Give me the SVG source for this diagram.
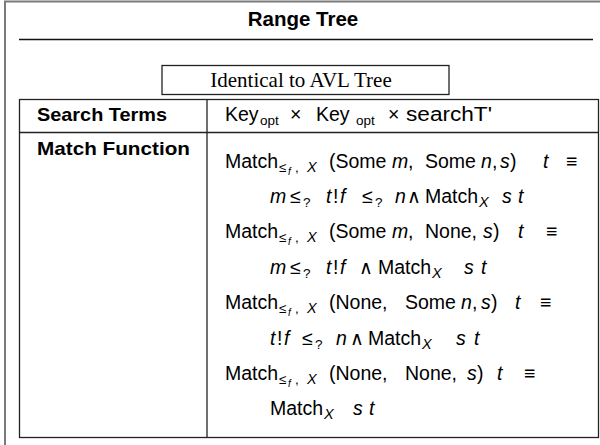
<svg xmlns="http://www.w3.org/2000/svg" width="600" height="445" viewBox="0 0 600 445">
  <style>
    .frame { fill: none; stroke: #7a7a7a; stroke-width: 2; }
    .rule { fill: none; stroke: #111; stroke-width: 1.5; }
    .cell { fill: none; stroke: #222; stroke-width: 1.3; }
    .hd { font-family: "Liberation Sans", Arial, sans-serif; font-weight: bold; font-size: 19px; fill: #000; }
    .serif { font-family: "Liberation Serif", "Times New Roman", serif; font-size: 21px; fill: #000; }
    .m { font-family: "Liberation Sans", Arial, sans-serif; font-size: 19.5px; fill: #000; }
    .i { font-style: italic; }
    .and { font-family: "DejaVu Sans", sans-serif; font-size: 19px; }
    .sb { font-size: 13.5px; }
    .sx { font-size: 14.5px; font-style: italic; }
    .ss { font-size: 10px; font-style: italic; }
  </style>

  <!-- page frame -->
  <path class="frame" d="M5,445 V1.5 H600"/>

  <g id="title">
    <text class="hd" x="303" y="26" text-anchor="middle" style="font-size:20.5px">Range Tree</text>
    <line class="rule" x1="19" y1="39.5" x2="593" y2="39.5"/>
  </g>

  <g id="inherits">
    <rect class="cell" x="162" y="65.5" width="287" height="29"/>
    <text class="serif" x="301" y="87" text-anchor="middle">Identical to AVL Tree</text>
  </g>

  <g id="table">
    <rect class="cell" x="19.5" y="99.5" width="579" height="338"/>
    <line class="cell" x1="207" y1="99.5" x2="207" y2="437.5"/>
    <line class="cell" x1="19.5" y1="132.5" x2="598.5" y2="132.5"/>
  </g>

  <g id="search-terms">
    <text class="hd" x="37" y="121" textLength="130" lengthAdjust="spacingAndGlyphs">Search Terms</text>
    <text class="m" y="121"><tspan x="225">Key</tspan><tspan class="sb" x="260" dy="4">opt</tspan><tspan x="290" dy="-4">×</tspan><tspan x="316">Key</tspan><tspan class="sb" x="356" dy="4">opt</tspan><tspan x="388" dy="-4">×</tspan><tspan x="406" textLength="86" lengthAdjust="spacingAndGlyphs">searchT'</tspan></text>
  </g>

  <g id="match-function">
    <text class="hd" x="37" y="155" textLength="153" lengthAdjust="spacingAndGlyphs">Match Function</text>

    <!-- case: Some m, Some n -->
    <text class="m" y="168"><tspan x="225">Match</tspan><tspan class="sb" x="279" dy="4">≤</tspan><tspan class="ss" x="288" dy="3">f</tspan><tspan class="sb" x="295" dy="-3">,</tspan><tspan class="sx" x="307">X</tspan><tspan x="329" dy="-4">(Some</tspan><tspan class="i" x="392">m</tspan><tspan x="408">,</tspan><tspan x="425">Some</tspan><tspan class="i" x="481">n</tspan><tspan x="492">,</tspan><tspan class="i" x="500">s</tspan><tspan x="510">)</tspan><tspan class="i" x="543">t</tspan><tspan x="566">≡</tspan></text>
    <text class="m" y="203"><tspan class="i" x="270">m</tspan><tspan x="290">≤</tspan><tspan class="sb" x="303" dy="4">?</tspan><tspan class="i" x="326" dy="-4">t</tspan><tspan x="333">!</tspan><tspan class="i" x="340">f</tspan><tspan x="362">≤</tspan><tspan class="sb" x="375" dy="4">?</tspan><tspan class="i" x="395" dy="-4">n</tspan><tspan class="and" x="407">∧</tspan><tspan x="425">Match</tspan><tspan class="sx" x="479" dy="4">X</tspan><tspan class="i" x="502" dy="-4">s</tspan><tspan class="i" x="518">t</tspan></text>

    <!-- case: Some m, None -->
    <text class="m" y="238"><tspan x="225">Match</tspan><tspan class="sb" x="279" dy="4">≤</tspan><tspan class="ss" x="288" dy="3">f</tspan><tspan class="sb" x="295" dy="-3">,</tspan><tspan class="sx" x="307">X</tspan><tspan x="329" dy="-4">(Some</tspan><tspan class="i" x="392">m</tspan><tspan x="408">,</tspan><tspan x="425">None,</tspan><tspan class="i" x="483">s</tspan><tspan x="493">)</tspan><tspan class="i" x="518">t</tspan><tspan x="546">≡</tspan></text>
    <text class="m" y="274"><tspan class="i" x="270">m</tspan><tspan x="290">≤</tspan><tspan class="sb" x="303" dy="4">?</tspan><tspan class="i" x="326" dy="-4">t</tspan><tspan x="333">!</tspan><tspan class="i" x="340">f</tspan><tspan class="and" x="359">∧</tspan><tspan x="378">Match</tspan><tspan class="sx" x="432" dy="4">X</tspan><tspan class="i" x="464" dy="-4">s</tspan><tspan class="i" x="481">t</tspan></text>

    <!-- case: None, Some n -->
    <text class="m" y="309"><tspan x="225">Match</tspan><tspan class="sb" x="279" dy="4">≤</tspan><tspan class="ss" x="288" dy="3">f</tspan><tspan class="sb" x="295" dy="-3">,</tspan><tspan class="sx" x="307">X</tspan><tspan x="329" dy="-4">(None,</tspan><tspan x="405">Some</tspan><tspan class="i" x="461">n</tspan><tspan x="472">,</tspan><tspan class="i" x="481">s</tspan><tspan x="491">)</tspan><tspan class="i" x="515">t</tspan><tspan x="540">≡</tspan></text>
    <text class="m" y="344.5"><tspan class="i" x="270">t</tspan><tspan x="277">!</tspan><tspan class="i" x="284">f</tspan><tspan x="302">≤</tspan><tspan class="sb" x="315" dy="4">?</tspan><tspan class="i" x="336" dy="-4">n</tspan><tspan class="and" x="350">∧</tspan><tspan x="368">Match</tspan><tspan class="sx" x="422" dy="4">X</tspan><tspan class="i" x="456" dy="-4">s</tspan><tspan class="i" x="474">t</tspan></text>

    <!-- case: None, None -->
    <text class="m" y="380"><tspan x="225">Match</tspan><tspan class="sb" x="279" dy="4">≤</tspan><tspan class="ss" x="288" dy="3">f</tspan><tspan class="sb" x="295" dy="-3">,</tspan><tspan class="sx" x="307">X</tspan><tspan x="329" dy="-4">(None,</tspan><tspan x="405">None,</tspan><tspan class="i" x="467">s</tspan><tspan x="477">)</tspan><tspan class="i" x="497">t</tspan><tspan x="524">≡</tspan></text>
    <text class="m" y="415"><tspan x="270">Match</tspan><tspan class="sx" x="324" dy="4">X</tspan><tspan class="i" x="353" dy="-4">s</tspan><tspan class="i" x="369">t</tspan></text>
  </g>
</svg>
